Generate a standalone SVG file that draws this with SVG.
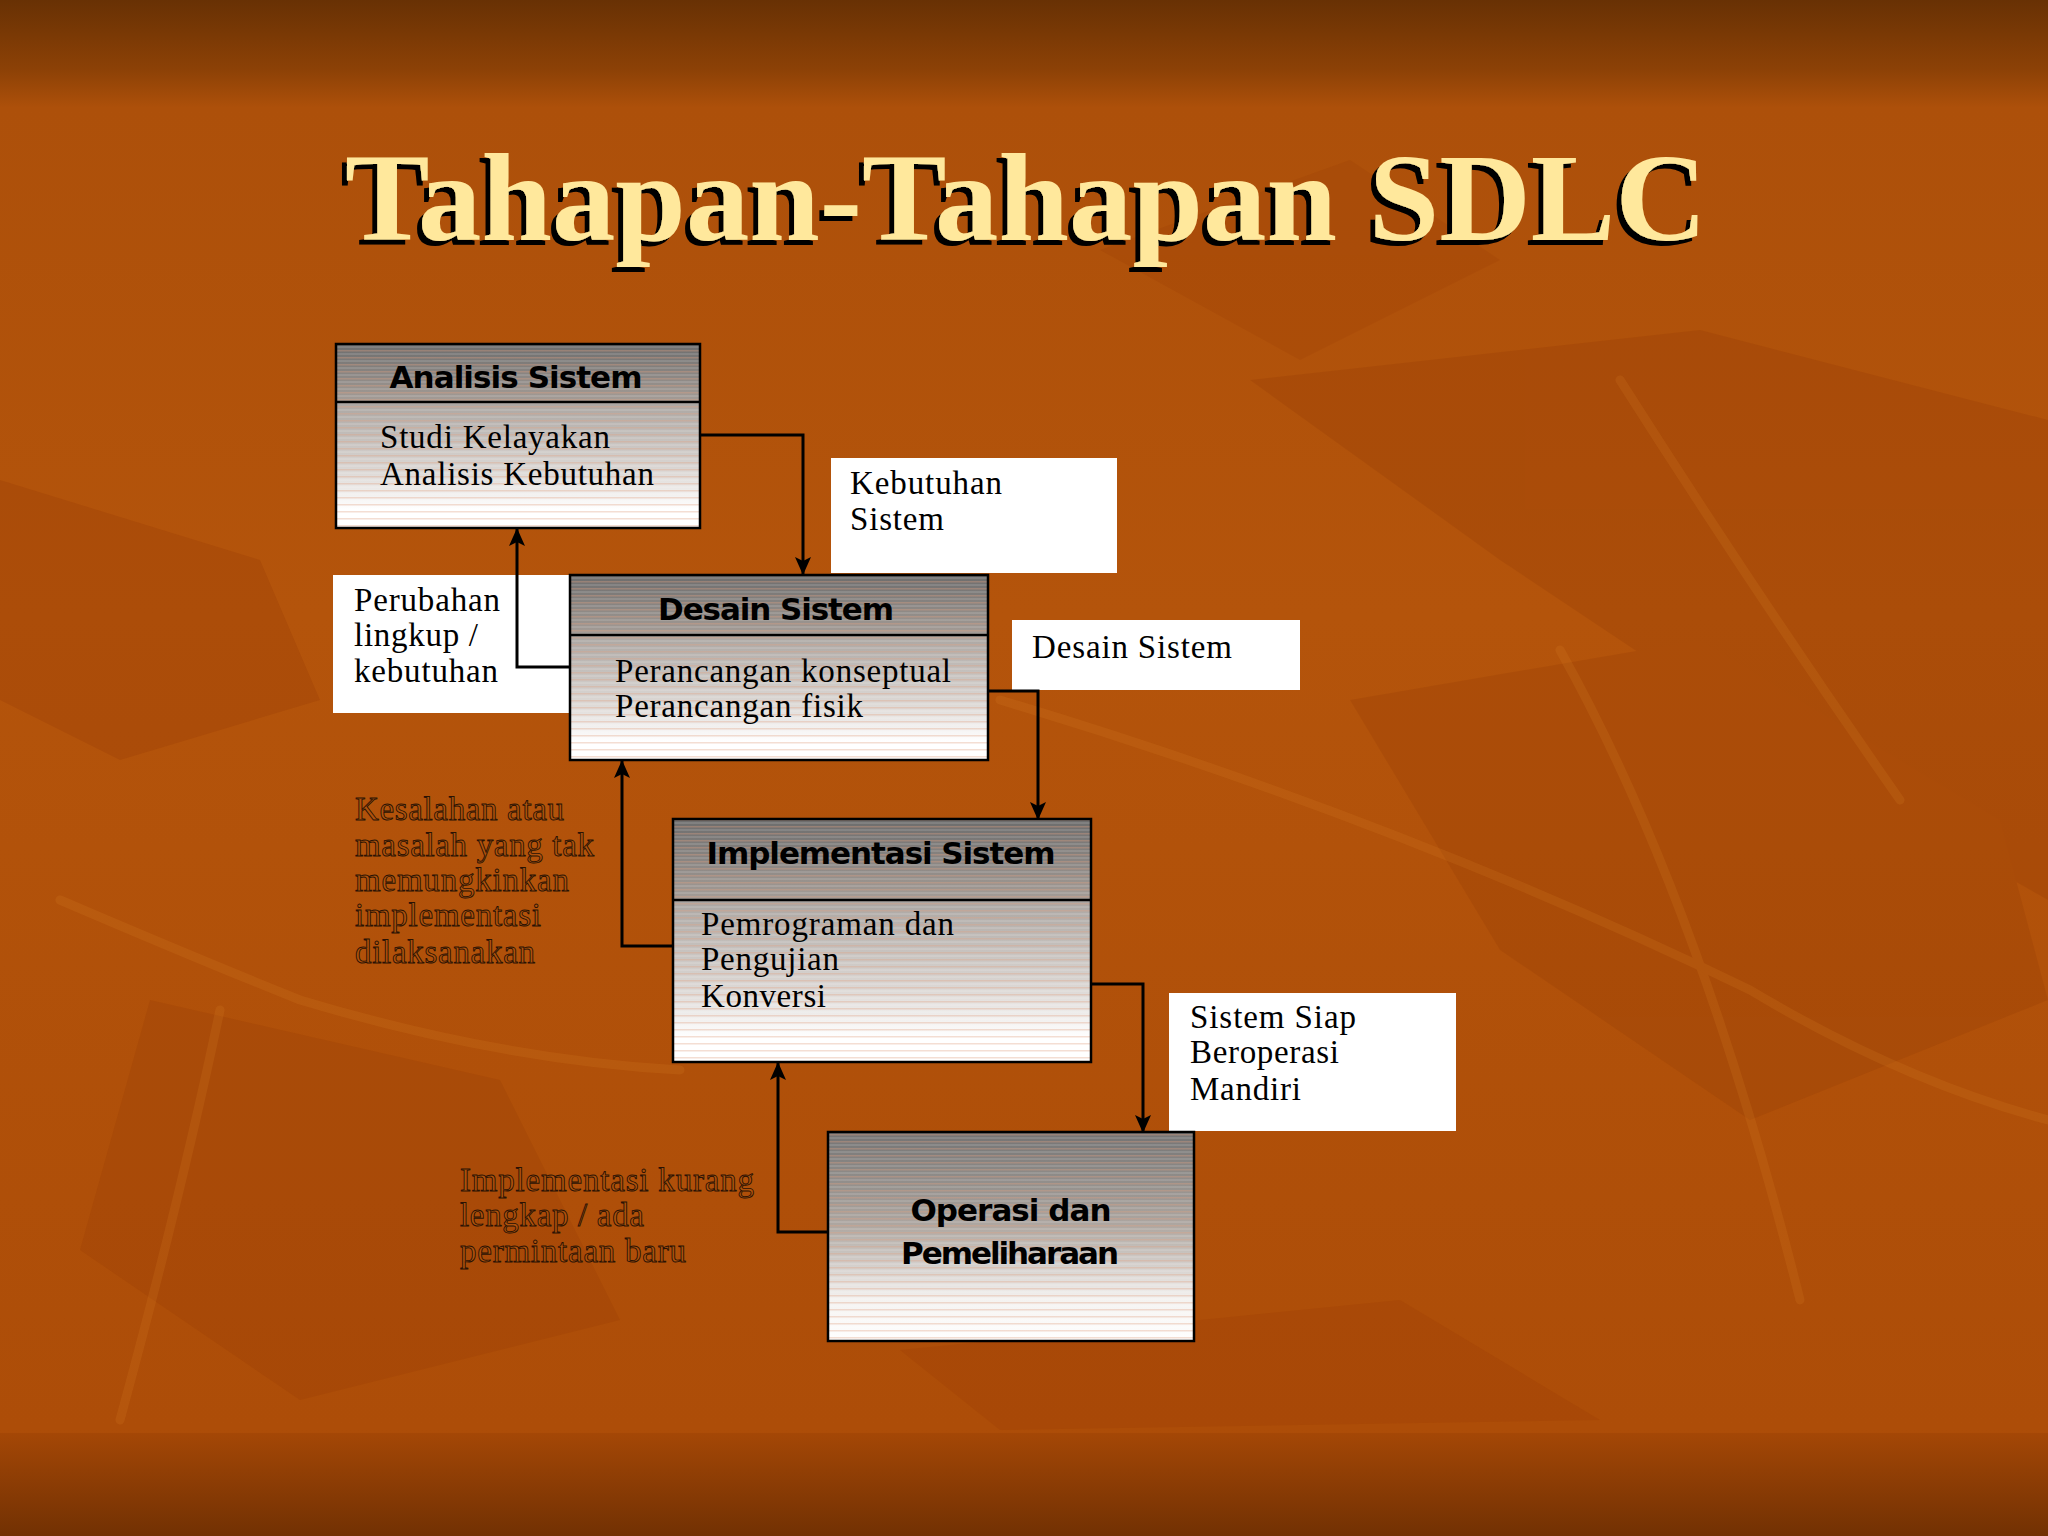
<svg xmlns="http://www.w3.org/2000/svg" width="2048" height="1536" viewBox="0 0 2048 1536">
<defs>
<linearGradient id="bgGrad" x1="0" y1="0" x2="0" y2="1">
<stop offset="0" stop-color="#683104"/>
<stop offset="0.045" stop-color="#8c4106"/>
<stop offset="0.07" stop-color="#ad500a"/>
<stop offset="0.4" stop-color="#b4540b"/>
<stop offset="0.93" stop-color="#ad4d08"/>
<stop offset="1" stop-color="#a54806"/>
</linearGradient>
<linearGradient id="bottomGrad" x1="0" y1="0" x2="0" y2="1">
<stop offset="0" stop-color="#a44706"/>
<stop offset="1" stop-color="#723103"/>
</linearGradient>
<linearGradient id="hdrGrad" x1="0" y1="0" x2="0" y2="1">
<stop offset="0" stop-color="#6c6c6c"/>
<stop offset="1" stop-color="#a59d97"/>
</linearGradient>
<linearGradient id="bodyGrad" x1="0" y1="0" x2="0" y2="1">
<stop offset="0" stop-color="#aaa5a1"/>
<stop offset="0.55" stop-color="#dcd8d5"/>
<stop offset="0.85" stop-color="#ffffff"/>
<stop offset="1" stop-color="#ffffff"/>
</linearGradient>
<linearGradient id="opGrad" x1="0" y1="0" x2="0" y2="1">
<stop offset="0" stop-color="#737373"/>
<stop offset="0.45" stop-color="#aea7a1"/>
<stop offset="0.8" stop-color="#f4f2f0"/>
<stop offset="1" stop-color="#ffffff"/>
</linearGradient>
<pattern id="stripes" width="8" height="7" patternUnits="userSpaceOnUse">
<rect x="0" y="0" width="8" height="1.5" fill="#e0a080" opacity="0.35"/>
<rect x="0" y="3.5" width="8" height="1" fill="#ffffff" opacity="0.25"/>
</pattern>
<marker id="arrow" markerWidth="18" markerHeight="16" refX="17" refY="8" orient="auto" markerUnits="userSpaceOnUse">
<path d="M0,0 L18,8 L0,16 L4,8 Z" fill="#000"/>
</marker>
<filter id="shadow" x="-5%" y="-20%" width="110%" height="140%">
<feOffset in="SourceAlpha" dx="-5" dy="5" result="off"/>
<feFlood flood-color="#000"/>
<feComposite in2="off" operator="in" result="sh"/>
<feMerge><feMergeNode in="sh"/><feMergeNode in="SourceGraphic"/></feMerge>
</filter>
</defs>
<style>
.box{stroke:#000;stroke-width:2.5}
.lbl{fill:#ffffff}
.hdr{font-family:"DejaVu Sans","Liberation Sans",sans-serif;font-weight:bold;font-size:31px;fill:#000;text-anchor:middle}
.body{font-family:"Liberation Serif","Times New Roman",serif;font-size:33px;fill:#000}
.eng{font-family:"Liberation Serif","Times New Roman",serif;font-size:33px;fill:#b0520c;stroke:#2a1204;stroke-width:0.9}
.conn{fill:none;stroke:#000;stroke-width:3}
.title{font-family:"Liberation Serif","Times New Roman",serif;font-weight:bold;font-size:125px;fill:#ffe89c}
</style>

<!-- background -->
<rect x="0" y="0" width="2048" height="1536" fill="url(#bgGrad)"/>
<g opacity="0.2">
<path d="M1250,380 L1700,330 L2048,420 L2048,900 L1800,760 L1500,560 Z" fill="#8a3304"/>
<path d="M1350,700 L1700,640 L2000,820 L2048,1000 L1750,1120 L1500,950 Z" fill="#8c3504"/>
<path d="M0,480 L260,560 L320,700 L120,760 L0,700 Z" fill="#8a3304"/>
<path d="M150,1000 L500,1080 L620,1320 L300,1400 L80,1250 Z" fill="#903604"/>
<path d="M1100,250 L1350,160 L1500,260 L1300,360 Z" fill="#983a05"/>
<path d="M900,1350 L1400,1300 L1600,1420 L1000,1430 Z" fill="#963905"/>
</g>
<g opacity="0.16" fill="none" stroke="#e08a2a" stroke-width="9" stroke-linecap="round">
<path d="M1000,700 Q1400,820 1750,990 Q1900,1080 2048,1120"/>
<path d="M60,900 Q200,960 300,1000 Q500,1060 680,1070"/>
<path d="M1560,650 Q1700,900 1800,1300"/>
<path d="M1620,380 Q1760,600 1900,800"/>
<path d="M220,1010 Q180,1200 120,1420"/>
</g>
<rect x="0" y="1433" width="2048" height="103" fill="url(#bottomGrad)"/>

<!-- title -->
<g id="title">
<text class="title" x="345" y="240" textLength="1362" lengthAdjust="spacingAndGlyphs" filter="url(#shadow)">Tahapan-Tahapan SDLC</text>
</g>

<!-- white labels -->
<g id="label-kebutuhan">
<rect class="lbl" x="831" y="458" width="286" height="115"/>
<text class="body" x="850" y="494" textLength="152">Kebutuhan</text>
<text class="body" x="850" y="530" textLength="94">Sistem</text>
</g>
<g id="label-perubahan">
<rect class="lbl" x="333" y="575" width="240" height="138"/>
<text class="body" x="354" y="611" textLength="146">Perubahan</text>
<text class="body" x="354" y="646" textLength="124">lingkup /</text>
<text class="body" x="354" y="682" textLength="144">kebutuhan</text>
</g>
<g id="label-desain">
<rect class="lbl" x="1012" y="620" width="288" height="70"/>
<text class="body" x="1032" y="658" textLength="200">Desain Sistem</text>
</g>
<g id="label-siap">
<rect class="lbl" x="1169" y="993" width="287" height="138"/>
<text class="body" x="1190" y="1028" textLength="166">Sistem Siap</text>
<text class="body" x="1190" y="1063" textLength="149">Beroperasi</text>
<text class="body" x="1190" y="1100" textLength="111">Mandiri</text>
</g>

<!-- engraved labels -->
<g id="label-kesalahan">
<text class="eng" x="355" y="820" textLength="209">Kesalahan atau</text>
<text class="eng" x="355" y="856" textLength="239">masalah yang tak</text>
<text class="eng" x="355" y="891" textLength="214">memungkinkan</text>
<text class="eng" x="355" y="926" textLength="186">implementasi</text>
<text class="eng" x="355" y="963" textLength="180">dilaksanakan</text>
</g>
<g id="label-kurang">
<text class="eng" x="460" y="1191" textLength="294">Implementasi kurang</text>
<text class="eng" x="460" y="1226" textLength="184">lengkap / ada</text>
<text class="eng" x="460" y="1262" textLength="226">permintaan baru</text>
</g>

<!-- connectors -->
<g id="connectors">
<path class="conn" d="M700,435 H803 V574" marker-end="url(#arrow)"/>
<path class="conn" d="M570,667 H517 V529" marker-end="url(#arrow)"/>
<path class="conn" d="M987,691 H1038 V819" marker-end="url(#arrow)"/>
<path class="conn" d="M673,946 H622 V761" marker-end="url(#arrow)"/>
<path class="conn" d="M1091,984 H1143 V1132" marker-end="url(#arrow)"/>
<path class="conn" d="M828,1232 H778 V1063" marker-end="url(#arrow)"/>
</g>

<!-- nodes -->
<g id="node-analisis">
<rect x="336" y="344" width="364" height="58" fill="url(#hdrGrad)"/>
<rect x="336" y="402" width="364" height="126" fill="url(#bodyGrad)"/>
<rect x="336" y="344" width="364" height="184" fill="url(#stripes)"/>
<rect class="box" x="336" y="344" width="364" height="184" fill="none"/>
<line x1="336" y1="402" x2="700" y2="402" stroke="#000" stroke-width="2.5"/>
<text class="hdr" x="516" y="388" textLength="253">Analisis Sistem</text>
<text class="body" x="380" y="448" textLength="230">Studi Kelayakan</text>
<text class="body" x="380" y="485" textLength="274">Analisis Kebutuhan</text>
</g>
<g id="node-desain">
<rect x="570" y="575" width="418" height="60" fill="url(#hdrGrad)"/>
<rect x="570" y="635" width="418" height="125" fill="url(#bodyGrad)"/>
<rect x="570" y="575" width="418" height="185" fill="url(#stripes)"/>
<rect class="box" x="570" y="575" width="418" height="185" fill="none"/>
<line x1="570" y1="635" x2="988" y2="635" stroke="#000" stroke-width="2.5"/>
<text class="hdr" x="776" y="620" textLength="236">Desain Sistem</text>
<text class="body" x="615" y="682" textLength="336">Perancangan konseptual</text>
<text class="body" x="615" y="717" textLength="248">Perancangan fisik</text>
</g>
<g id="node-implementasi">
<rect x="673" y="819" width="418" height="81" fill="url(#hdrGrad)"/>
<rect x="673" y="900" width="418" height="162" fill="url(#bodyGrad)"/>
<rect x="673" y="819" width="418" height="243" fill="url(#stripes)"/>
<rect class="box" x="673" y="819" width="418" height="243" fill="none"/>
<line x1="673" y1="900" x2="1091" y2="900" stroke="#000" stroke-width="2.5"/>
<text class="hdr" x="881" y="864" textLength="349">Implementasi Sistem</text>
<text class="body" x="701" y="935" textLength="253">Pemrograman dan</text>
<text class="body" x="701" y="970" textLength="138">Pengujian</text>
<text class="body" x="701" y="1007" textLength="125">Konversi</text>
</g>
<g id="node-operasi">
<rect x="828" y="1132" width="366" height="209" fill="url(#opGrad)"/>
<rect x="828" y="1132" width="366" height="209" fill="url(#stripes)"/>
<rect class="box" x="828" y="1132" width="366" height="209" fill="none"/>
<text class="hdr" x="1011" y="1221" textLength="201">Operasi dan</text>
<text class="hdr" x="1010" y="1264" textLength="218">Pemeliharaan</text>
</g>
</svg>
